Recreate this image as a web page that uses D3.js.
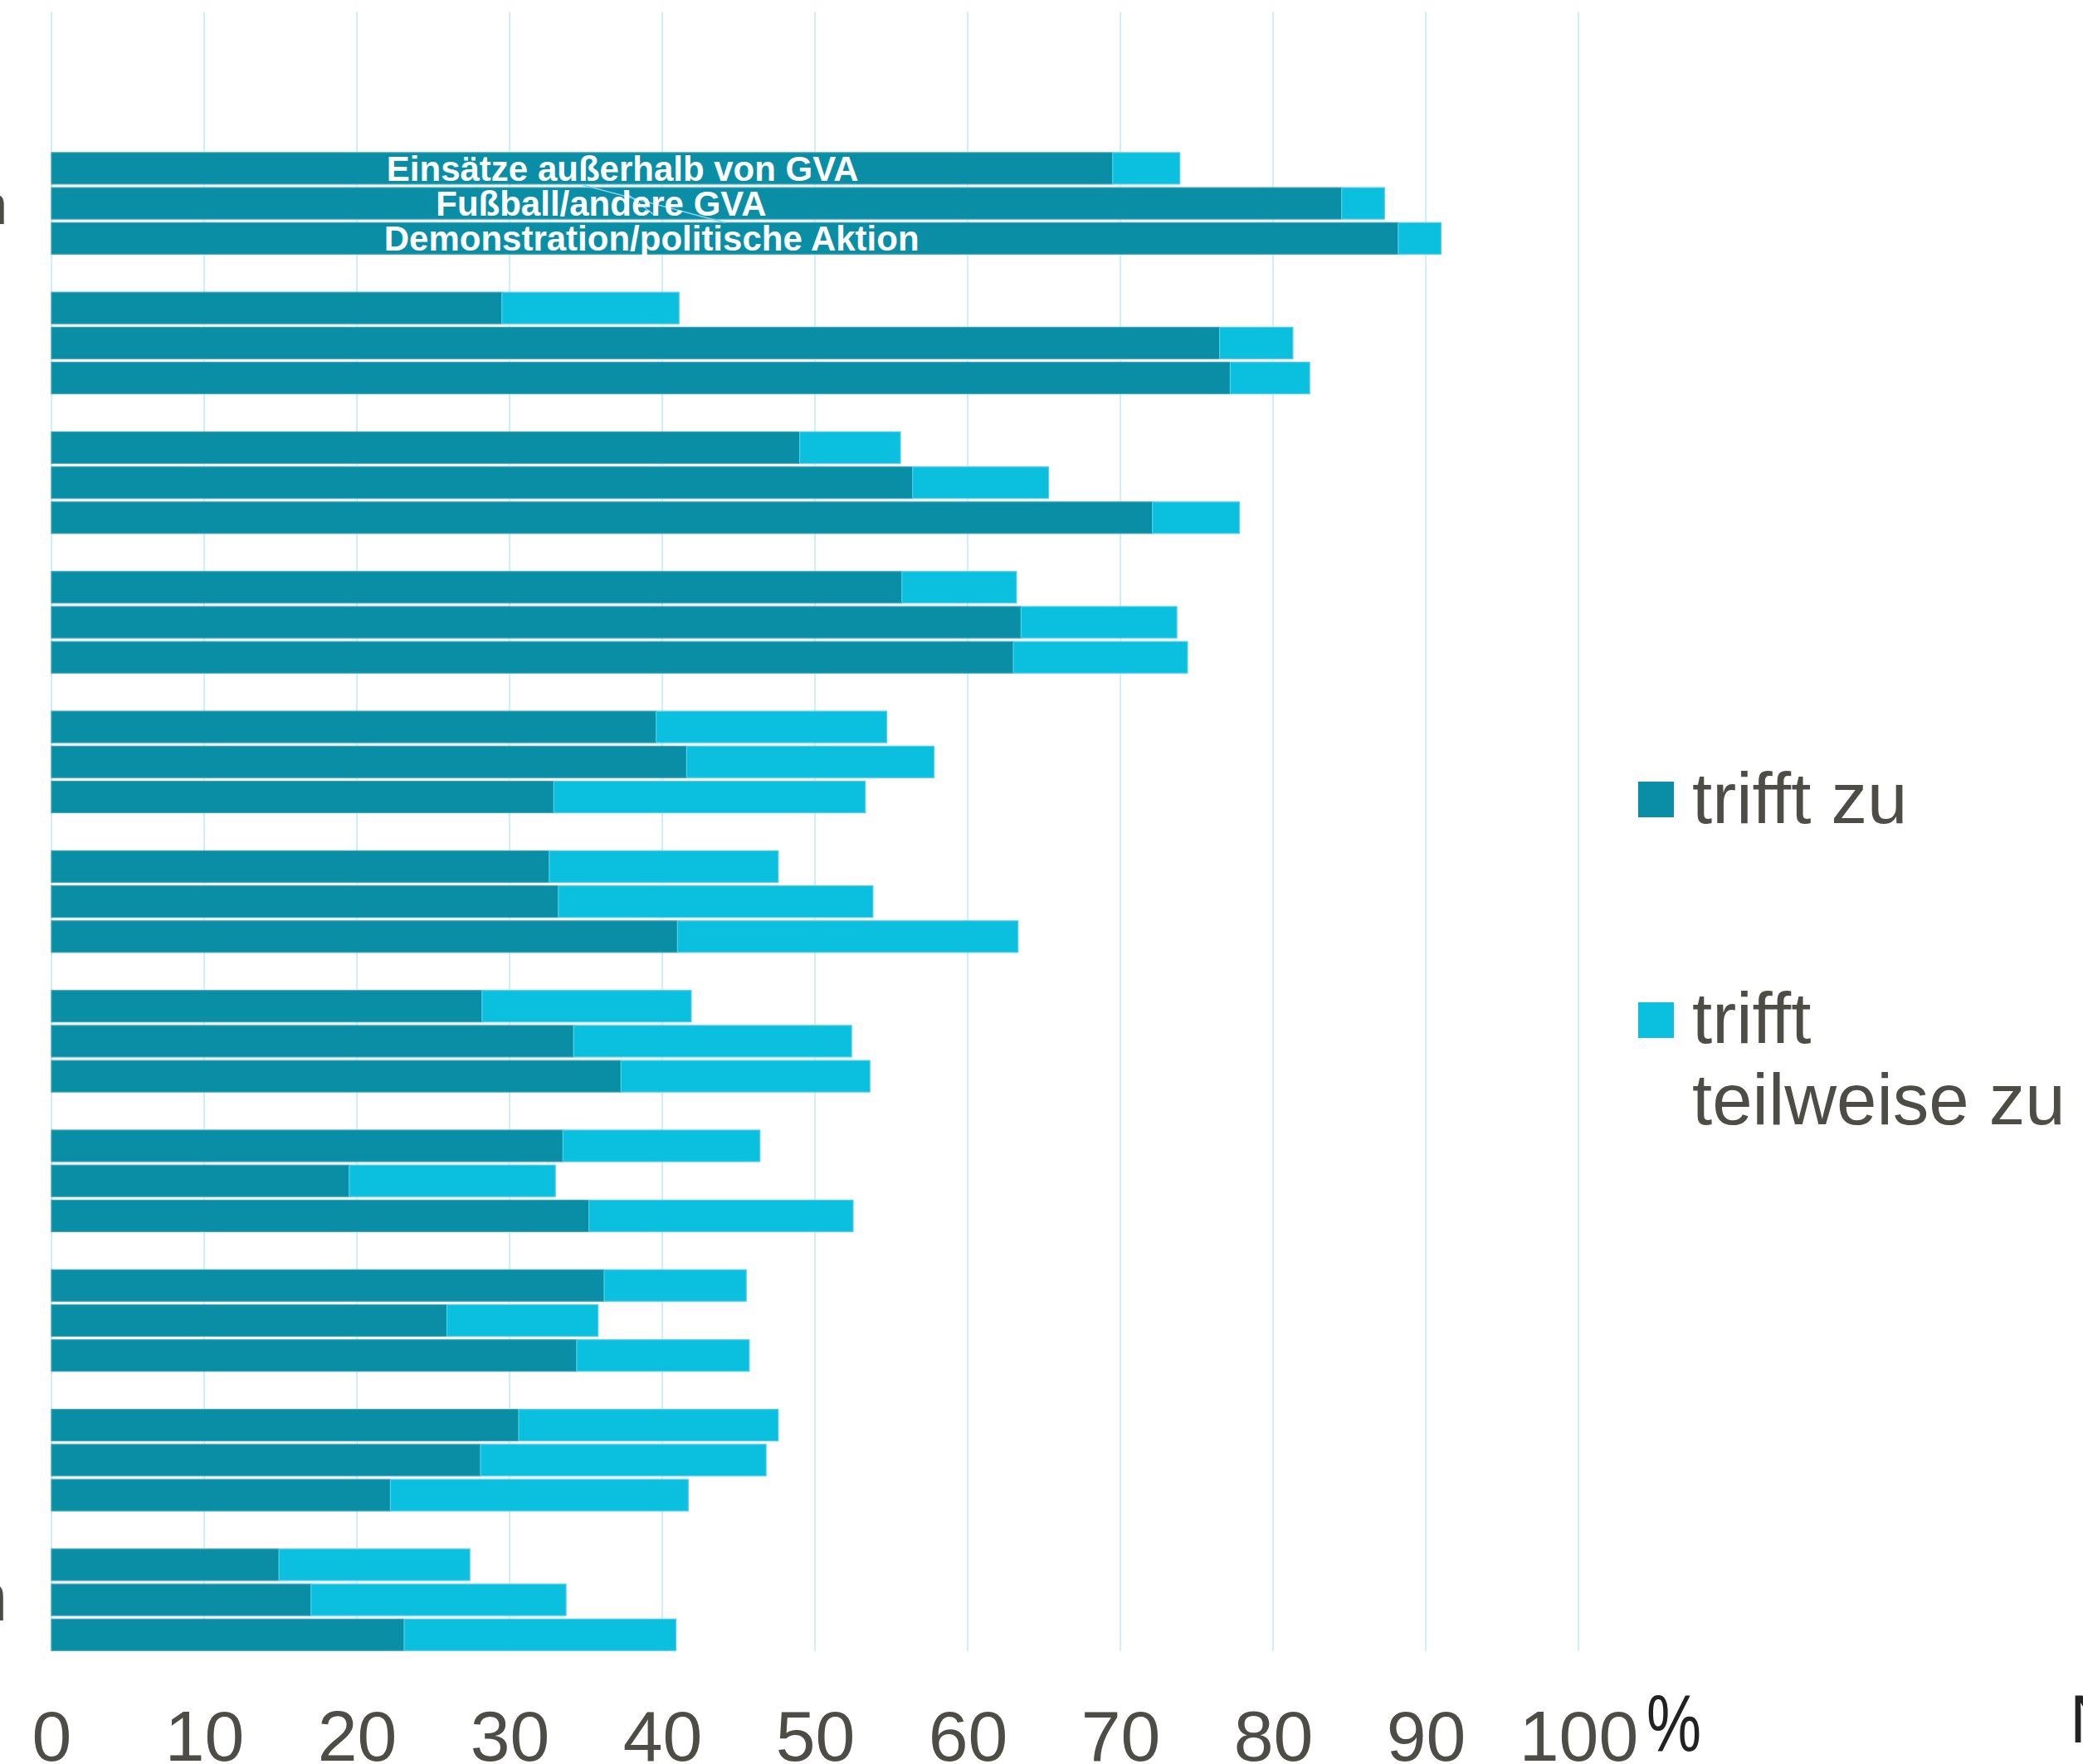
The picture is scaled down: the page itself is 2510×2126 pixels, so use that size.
<!DOCTYPE html>
<html lang="de">
<head>
<meta charset="utf-8">
<script src="https://cdn.jsdelivr.net/npm/d3@7"></script>
<style>
  html, body { margin: 0; padding: 0; background: #ffffff; }
  svg { display: block; }
  text { font-family: "Liberation Sans", Arial, Helvetica, sans-serif; }
</style>
</head>
<body>
<script>
// Bar kinds inside every question block
const barTypes = ["Einsätze außerhalb von GVA", "Fußball/andere GVA", "Demonstration/politische Aktion"];
const seriesNames = ["trifft zu", "trifft teilweise zu"];
// Eleven question blocks, top to bottom
const groups = d3.range(11);
// "trifft zu" shares (%), per block: [Einsätze, Fußball, Demonstration]
const trifftZu = [
  [69.5, 84.5, 88.2],
  [29.5, 76.5, 77.2],
  [49.0, 56.4, 72.1],
  [55.7, 63.5, 63.0],
  [39.6, 41.6, 32.9],
  [32.6, 33.2, 41.0],
  [28.2, 34.2, 37.3],
  [33.5, 19.5, 35.2],
  [36.2, 25.9, 34.4],
  [30.6, 28.1, 22.2],
  [14.9, 17.0, 23.1]
];
// "trifft teilweise zu" shares (%)
const trifftTeilweise = [
  [4.4, 2.8, 2.8],
  [11.6, 4.8, 5.2],
  [6.6, 8.9, 5.7],
  [7.5, 10.2, 11.4],
  [15.1, 16.2, 20.4],
  [15.0, 20.6, 22.3],
  [13.7, 18.2, 16.3],
  [12.9, 13.5, 17.3],
  [9.3, 9.9, 11.3],
  [17.0, 18.7, 19.5],
  [12.5, 16.7, 17.8]
];
const tickValues = [0, 10, 20, 30, 40, 50, 60, 70, 80, 90, 100];
// Visible ends of the row captions on the left edge
const rowCaptionEnds = [{group: 0, text: "n"}, {group: 10, text: "n"}];

const W = 2510, H = 2126;
const colors = ["#098ea5", "#0bbfde"];
const strokes = ["#3aa6ba", "#4fd0ea"];
const textColor = "#4d4c47";

const svg = d3.select("body").append("svg")
  .attr("width", W).attr("height", H)
  .attr("viewBox", [0, 0, W, H]);

const x = d3.scaleLinear().domain([0, 100]).range([62, 1902]);
const groupStep = 168.3;
const gy = d3.scaleBand().domain(groups).range([162.9, 162.9 + groups.length * groupStep]);
const by = d3.scaleBand().domain(d3.range(barTypes.length)).range([0, 122.4])
  .paddingInner(0.1).paddingOuter(0);
const groupInset = 21;
const gridTop = 14, gridBottom = 1990;

// vertical gridlines
svg.append("g").selectAll("line").data(tickValues).join("line")
  .attr("x1", d => x(d)).attr("x2", d => x(d))
  .attr("y1", gridTop).attr("y2", gridBottom)
  .attr("stroke", "#cdeefa").attr("stroke-width", 2);

// stacked bars
const rows = [];
groups.forEach(g => {
  barTypes.forEach((t, i) => {
    const a = trifftZu[g][i], b = trifftTeilweise[g][i];
    rows.push({g, i, segs: [[0, a], [a, a + b]]});
  });
});

const barG = svg.append("g");
rows.forEach(r => {
  const y0 = gy(r.g) + groupInset + by(r.i);
  r.segs.forEach((s, k) => {
    barG.append("rect")
      .attr("x", x(s[0]))
      .attr("y", y0)
      .attr("width", x(s[1]) - x(s[0]))
      .attr("height", by.bandwidth())
      .attr("fill", colors[k])
      .attr("stroke", strokes[k])
      .attr("stroke-width", 1.2);
  });
});

// in-bar captions for the first block
const captionCenters = [37.4, 36.0, 39.3];
// thin leader lines between the captions
svg.append("line")
  .attr("x1", x(34.8)).attr("y1", gy(0) + groupInset + by(0) + 39)
  .attr("x2", x(44.1)).attr("y2", gy(0) + groupInset + by(2) + 0)
  .attr("stroke", "#7fd3f2").attr("stroke-width", 1.6);
svg.append("line")
  .attr("x1", x(37.6)).attr("y1", gy(0) + groupInset + by(1) + 6)
  .attr("x2", x(39.4)).attr("y2", gy(0) + groupInset + by(1) + 32)
  .attr("stroke", "#7fd3f2").attr("stroke-width", 1.4);

svg.append("g").selectAll("text").data(barTypes).join("text")
  .attr("x", (d, i) => x(captionCenters[i]))
  .attr("y", (d, i) => gy(0) + groupInset + by(i) + by.bandwidth() - 4)
  .attr("text-anchor", "middle")
  .attr("fill", "#ffffff")
  .attr("font-weight", "bold")
  .attr("font-size", 42)
  .text(d => d);

// left row captions (only their last letters fall inside the page)
svg.append("g").selectAll("text").data(rowCaptionEnds).join("text")
  .attr("x", 9)
  .attr("y", d => gy(d.group) + groupInset + by(1) + 44)
  .attr("text-anchor", "end")
  .attr("fill", textColor)
  .attr("font-size", (d, i) => i === 0 ? 66 : 82)
  .text(d => d.text);

// x axis
const axis = d3.axisBottom(x).tickValues(tickValues).tickSize(0).tickFormat(d3.format("d"));
const axG = svg.append("g").attr("transform", `translate(0,${gridBottom})`).call(axis);
axG.select(".domain").remove();
axG.selectAll("text")
  .attr("y", 132).attr("dy", null)
  .attr("fill", textColor)
  .attr("font-size", 86)
  .attr("font-family", "\"Liberation Sans\", Arial, sans-serif");

// unit sign and the label at the far right of the axis row
svg.append("text")
  .attr("x", 1984).attr("y", 2110)
  .attr("fill", "#222222")
  .attr("font-size", 96)
  .attr("textLength", 66)
  .attr("lengthAdjust", "spacingAndGlyphs")
  .text("%");
svg.append("text")
  .attr("x", 2494).attr("y", 2100)
  .attr("fill", "#222222")
  .attr("font-size", 81)
  .text("N");

// legend
const legend = svg.append("g");
const legendItems = [
  {lines: ["trifft zu"], swatchY: 942, baseline: 992},
  {lines: ["trifft", "teilweise zu"], swatchY: 1208, baseline: 1257}
];
legendItems.forEach((item, k) => {
  legend.append("rect")
    .attr("x", 1974).attr("y", item.swatchY)
    .attr("width", 43).attr("height", 43)
    .attr("fill", colors[k]);
  const t = legend.append("text")
    .attr("x", 2039).attr("y", item.baseline)
    .attr("fill", textColor)
    .attr("font-size", 87);
  item.lines.forEach((ln, j) => {
    t.append("tspan").attr("x", 2039).attr("dy", j === 0 ? 0 : 98).text(ln);
  });
});
</script>
</body>
</html>
